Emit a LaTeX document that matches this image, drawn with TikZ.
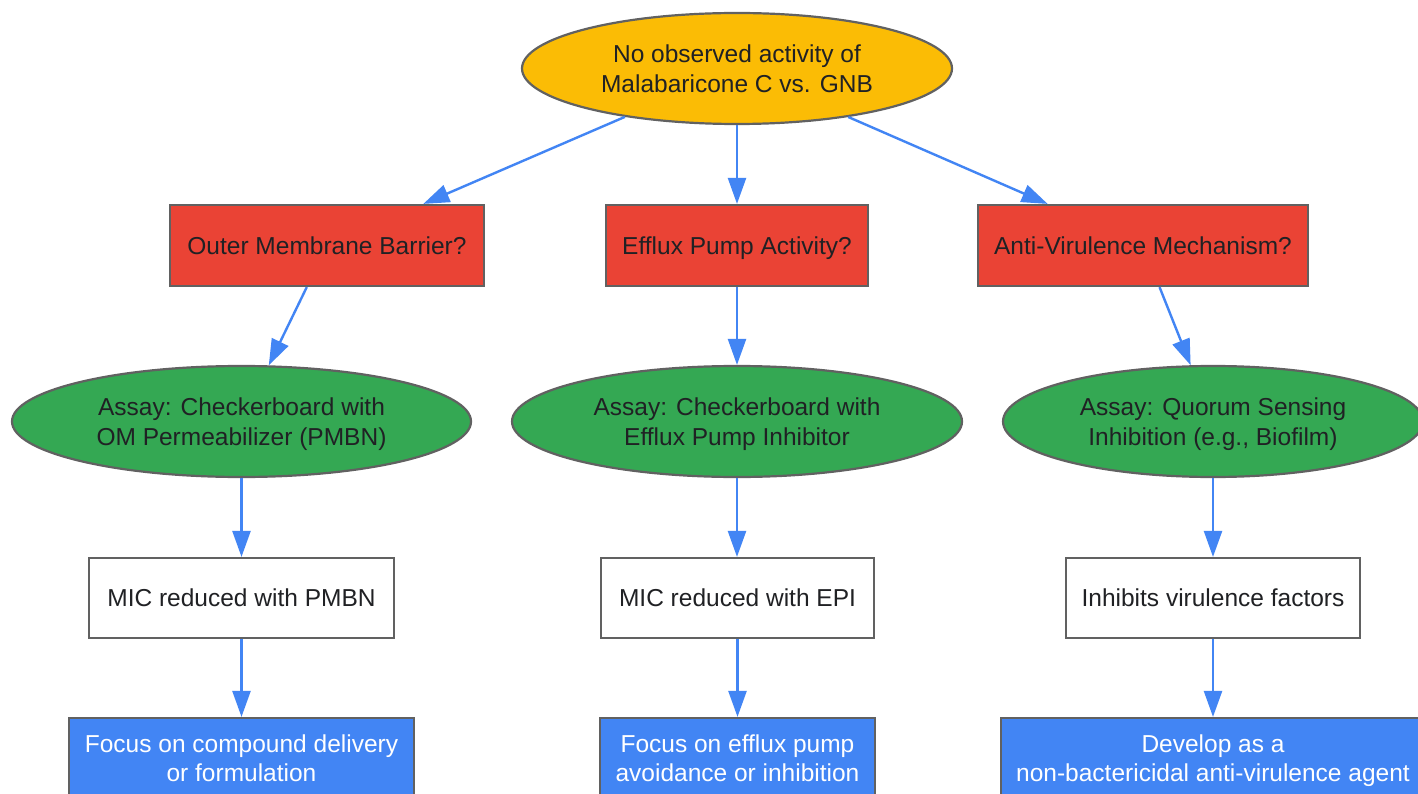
\documentclass[tikz,border=0pt]{standalone}
\usepackage{fontspec}
\setmainfont{Liberation Sans}
\usetikzlibrary{shapes.geometric,arrows.meta}
\definecolor{cyellow}{HTML}{FBBC05}
\definecolor{cred}{HTML}{EA4335}
\definecolor{cgreen}{HTML}{34A853}
\definecolor{cblue}{HTML}{4285F4}
\definecolor{cborder}{HTML}{616161}
\definecolor{ctext}{HTML}{202124}
\begin{document}
\begin{tikzpicture}[x=1pt,y=-1pt,
  base/.style={draw=cborder,line width=2.2pt,font=\fontsize{24.5}{29.5}\selectfont,align=center,text=ctext,inner sep=0pt,text depth=0pt},
  oval/.style={base,ellipse,minimum height=111pt},
  startnode/.style={oval,fill=cyellow},
  assay/.style={oval,fill=cgreen},
  qbox/.style={base,rectangle,fill=cred,minimum height=81pt},
  rbox/.style={base,rectangle,fill=white,minimum height=80pt},
  obox/.style={base,rectangle,fill=cblue,text=white,minimum height=80pt},
  arr/.style={draw=cblue,line width=2.4pt,-{Triangle[length=26pt,width=18pt]}}]
\useasboundingbox (0,0) rectangle (1418,794);
\fill[white] (0,0) rectangle (1418,794);

\node[startnode,minimum width=430pt] (top) at (737,68.5) {No observed activity of\\Malabaricone C vs. GNB};

\node[qbox,minimum width=314pt] (q1) at (327,245.5) {Outer Membrane Barrier?};
\node[qbox,minimum width=262pt] (q2) at (737,245.5) {Efflux Pump Activity?};
\node[qbox,minimum width=330pt] (q3) at (1143,245.5) {Anti-Virulence Mechanism?};

\node[assay,minimum width=459pt] (a1) at (241.5,421.5) {Assay: Checkerboard with\\OM Permeabilizer (PMBN)};
\node[assay,minimum width=450pt] (a2) at (737,421.5) {Assay: Checkerboard with\\Efflux Pump Inhibitor};
\node[assay,minimum width=420pt] (a3) at (1213,421.5) {Assay: Quorum Sensing\\Inhibition (e.g., Biofilm)};

\node[rbox,minimum width=305pt] (r1) at (241.5,598) {MIC reduced with PMBN};
\node[rbox,minimum width=273pt] (r2) at (737.5,598) {MIC reduced with EPI};
\node[rbox,minimum width=294pt] (r3) at (1213,598) {Inhibits virulence factors};

\node[obox,minimum width=345pt] (o1) at (241.5,758) {Focus on compound delivery\\or formulation};
\node[obox,minimum width=275pt] (o2) at (737.5,758) {Focus on efflux pump\\avoidance or inhibition};
\node[obox,minimum width=424pt] (o3) at (1213,758) {Develop as a\\non-bactericidal anti-virulence agent};

\draw[arr] (top) -- (q1);
\draw[arr] (top) -- (q2);
\draw[arr] (top) -- (q3);
\draw[arr] (q1) -- (a1);
\draw[arr] (q2) -- (a2);
\draw[arr] (q3) -- (a3);
\draw[arr] (a1) -- (r1);
\draw[arr] (a2.south) -- (r2.north -| a2.south);
\draw[arr] (a3) -- (r3);
\draw[arr] (r1) -- (o1);
\draw[arr] (r2) -- (o2);
\draw[arr] (r3) -- (o3);
\end{tikzpicture}
\end{document}
